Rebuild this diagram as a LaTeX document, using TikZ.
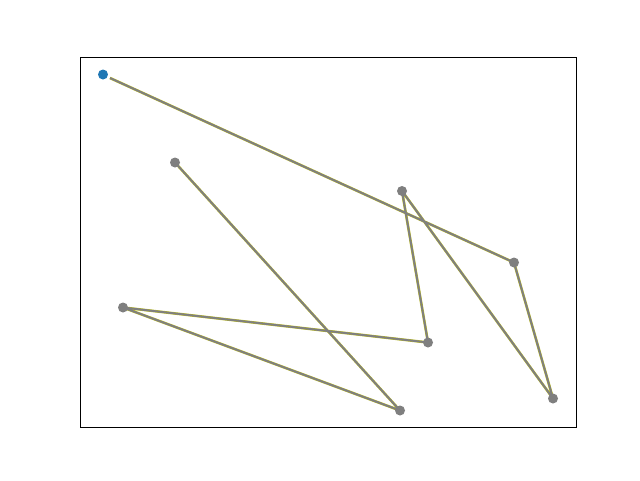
\documentclass[tikz,border=0pt]{standalone}
\definecolor{mplblue}{HTML}{1F77B4}
\definecolor{mplgrey}{HTML}{7F7F7F}
\definecolor{mplolive}{HTML}{BCBD22}
\begin{document}
\begin{tikzpicture}[x=1pt, y=-1pt,
    dot/.style={circle, fill=#1, inner sep=0pt, minimum size=10pt},
    trail/.style={draw=mplolive, double=mplgrey, double distance=1.9pt, line width=0.35pt, line join=round}]
    \useasboundingbox (0, 0) rectangle (640, 480);
    \draw[line width=0.8pt] (80, 57.6) rectangle (576, 427.2);
    % path points
    \coordinate (start) at (110, 78);
    \coordinate (p1) at (514, 262.5);
    \coordinate (p2) at (553, 398.5);
    \coordinate (p3) at (402, 191);
    \coordinate (p4) at (428, 342.5);
    \coordinate (p5) at (123, 307.5);
    \coordinate (p6) at (400, 410.5);
    \coordinate (p7) at (175, 162.5);
    \draw[trail] (start) -- (p1) -- (p2) -- (p3) -- (p4) -- (p5) -- (p6) -- (p7);
    \foreach \i in {1,...,7}
        \node[dot=mplgrey] (m\i) at (p\i) {};
    \node[dot=mplblue] (first) at (103, 74.5) {};
\end{tikzpicture}
\end{document}
